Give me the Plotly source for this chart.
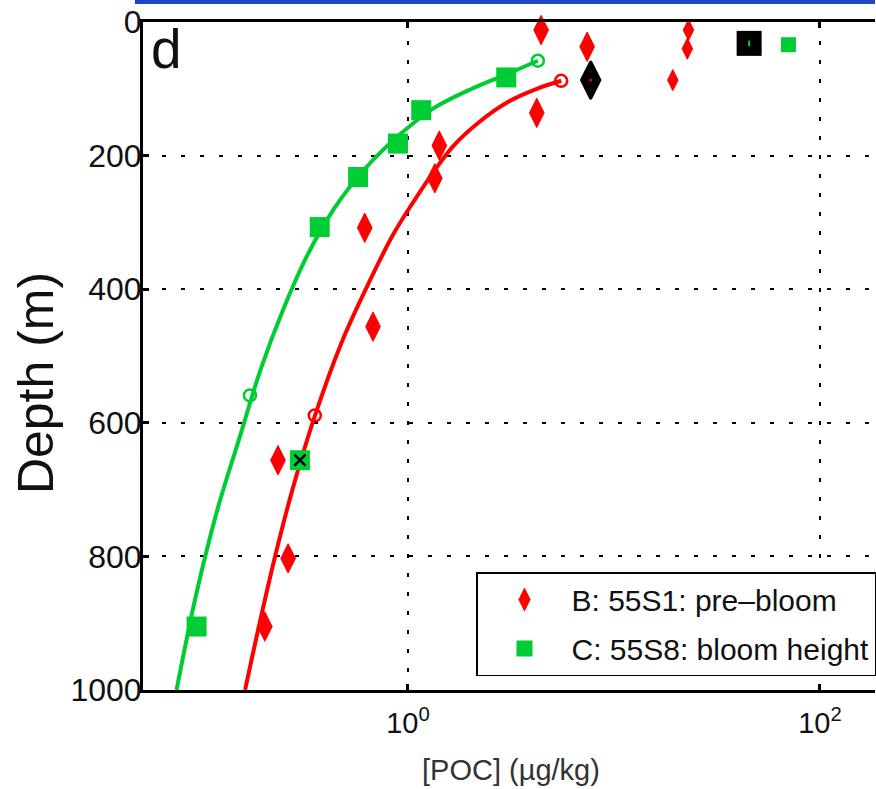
import plotly.graph_objects as go

# ---------------- data ----------------
# B: 55S1 pre-bloom (red diamonds)
red_x = [4.43, 7.41, 4.22, 1.42, 1.35, 0.617, 0.677, 0.234, 0.262, 0.202]
red_depth = [12, 37, 136, 185, 234, 308, 456, 656, 803, 905]
# small red diamonds near the surface
red_small_x = [23.0, 22.7, 19.3]
red_small_depth = [12, 40, 87]
# black diamond with red centre
red_black_x = [7.71]
red_black_depth = [87]

# C: 55S8 bloom height (green squares)
green_x = [3.00, 1.16, 0.895, 0.573, 0.373, 0.299, 0.0942]
green_depth = [83, 132, 182, 232, 307, 656, 905]
green_small_x = [70.3]
green_small_depth = [34]
green_black_x = [45.3]
green_black_depth = [32]
green_cross_x = [0.299]
green_cross_depth = [656]

# fitted profiles
red_fit_depth = [88, 100, 120, 150, 185, 225, 270, 320, 400, 480, 590, 700, 800, 900, 1000]
red_fit_x = [5.55, 4.22, 3.04, 2.21, 1.667, 1.327, 1.059, 0.841, 0.624, 0.476, 0.353, 0.275, 0.2265, 0.1905, 0.162]
red_circ_x = [5.54, 0.353]
red_circ_depth = [88, 589]

green_fit_depth = [58, 80, 100, 130, 170, 220, 280, 350, 430, 520, 620, 730, 860, 1000]
green_fit_x = [4.27, 2.92, 2.04, 1.318, 0.902, 0.617, 0.4365, 0.3236, 0.2483, 0.1928, 0.1531, 0.1189, 0.0933, 0.0753]
green_circ_x = [4.27, 0.171]
green_circ_depth = [58, 559]

y_ticks = [0, 200, 400, 600, 800, 1000]
x_ticks = [1, 100]
x_ticktext = ["10<sup>0</sup>", "10<sup>2</sup>"]

RED = "rgb(255,0,0)"
GREEN = "rgb(0,204,51)"
FONT = "Liberation Sans, Arial, sans-serif"

fig = go.Figure()

# curves
fig.add_trace(go.Scatter(x=green_fit_x, y=green_fit_depth, mode="lines",
                         line=dict(color=GREEN, width=4, shape="spline", smoothing=1.0),
                         showlegend=False, hoverinfo="skip"))
fig.add_trace(go.Scatter(x=red_fit_x, y=red_fit_depth, mode="lines",
                         line=dict(color=RED, width=4, shape="spline", smoothing=1.0),
                         showlegend=False, hoverinfo="skip"))
fig.add_trace(go.Scatter(x=green_circ_x, y=green_circ_depth, mode="markers",
                         marker=dict(symbol="circle-open", size=12, color=GREEN, line=dict(width=2.5)),
                         showlegend=False, cliponaxis=False))
fig.add_trace(go.Scatter(x=red_circ_x, y=red_circ_depth, mode="markers",
                         marker=dict(symbol="circle-open", size=12, color=RED, line=dict(width=2.5)),
                         showlegend=False, cliponaxis=False))

# extra surface markers
fig.add_trace(go.Scatter(x=red_black_x, y=red_black_depth, mode="markers",
                         marker=dict(symbol="diamond-tall", size=27, color="black",
                                     line=dict(color="black", width=2.5)),
                         showlegend=False, cliponaxis=False))
fig.add_trace(go.Scatter(x=red_black_x, y=red_black_depth, mode="markers",
                         marker=dict(symbol="circle", size=3, color=RED),
                         showlegend=False, cliponaxis=False))
fig.add_trace(go.Scatter(x=green_black_x, y=green_black_depth, mode="markers",
                         marker=dict(symbol="square", size=25, color="black"),
                         showlegend=False, cliponaxis=False))
fig.add_trace(go.Scatter(x=green_black_x, y=green_black_depth, mode="markers",
                         marker=dict(symbol="line-ns", size=4, color=GREEN, line=dict(color=GREEN, width=2)),
                         showlegend=False, cliponaxis=False))
fig.add_trace(go.Scatter(x=red_small_x, y=red_small_depth, mode="markers",
                         marker=dict(symbol="diamond-tall", size=15, color=RED, line=dict(color=RED, width=1)),
                         showlegend=False, cliponaxis=False))
fig.add_trace(go.Scatter(x=green_small_x, y=green_small_depth, mode="markers",
                         marker=dict(symbol="square", size=15, color=GREEN),
                         showlegend=False, cliponaxis=False))

# main series
fig.add_trace(go.Scatter(x=red_x, y=red_depth, mode="markers", name="B: 55S1: pre\u2013bloom",
                         legendgroup="B",
                         marker=dict(symbol="diamond-tall", size=21, color=RED, line=dict(color=RED, width=1)),
                         cliponaxis=False))
fig.add_trace(go.Scatter(x=green_x, y=green_depth, mode="markers",
                         name="C: 55S8: bloom height",
                         legendgroup="C",
                         marker=dict(symbol="square", size=20, color=GREEN),
                         cliponaxis=False))
fig.add_trace(go.Scatter(x=green_cross_x, y=green_cross_depth, mode="markers",
                         marker=dict(symbol="x-thin", size=11, color="black", line=dict(color="black", width=2.5)),
                         showlegend=False, cliponaxis=False))

fig.update_layout(
    width=876, height=789,
    margin=dict(l=143, r=0, t=22, b=99),
    paper_bgcolor="white", plot_bgcolor="white",
    font=dict(family=FONT, color="black"),
    showlegend=True,
    legend=dict(x=0.455, y=0.1766, xanchor="left", yanchor="top",
                bgcolor="white", bordercolor="black", borderwidth=1.5,
                font=dict(family=FONT, size=30, color="#111"),
                itemwidth=84, tracegroupgap=7),
    xaxis=dict(type="log", range=[-1.286, 2.267],
               tickvals=x_ticks, ticktext=x_ticktext,
               tickfont=dict(family=FONT, size=29, color="#111"),
               ticklabelstandoff=5,
               ticks="inside", ticklen=6, tickwidth=2.5, tickcolor="black",
               showline=True, linecolor="black", linewidth=3, mirror="ticks",
               showgrid=True, gridcolor="black", gridwidth=1.5, griddash="4px,15px",
               zeroline=False),
    yaxis=dict(range=[1000, 0], tickvals=y_ticks,
               tickfont=dict(family=FONT, size=32, color="#111"),
               ticklabelstandoff=-8,
               ticks="inside", ticklen=6, tickwidth=2.5, tickcolor="black",
               showline=True, linecolor="black", linewidth=3, mirror=False,
               showgrid=True, gridcolor="black", gridwidth=1.5, griddash="4px,15px",
               zeroline=False),
    annotations=[
        dict(text="d", xref="paper", yref="paper", x=0.0327, y=0.9596,
             xanchor="center", yanchor="middle", showarrow=False,
             font=dict(family=FONT, size=55, color="#111")),
        dict(text="Depth (m)", xref="paper", yref="paper", x=-0.146, y=0.4596,
             xanchor="center", yanchor="middle", textangle=-90, showarrow=False,
             font=dict(family=FONT, size=50, color="#111")),
        dict(text="[POC] (\u00b5g/kg)", xref="paper", yref="paper", x=0.503, y=-0.120,
             xanchor="center", yanchor="middle", showarrow=False,
             font=dict(family=FONT, size=29, color="#333")),
    ],
    shapes=[
        dict(type="rect", xref="paper", yref="paper", x0=-0.011, x1=1.0, y0=1.027, y1=1.034,
             fillcolor="#1f47c8", line=dict(width=0), layer="above"),
    ],
)

fig.write_html("out.html", config={"displayModeBar": False},
               post_script="document.body.style.margin='0px';")
